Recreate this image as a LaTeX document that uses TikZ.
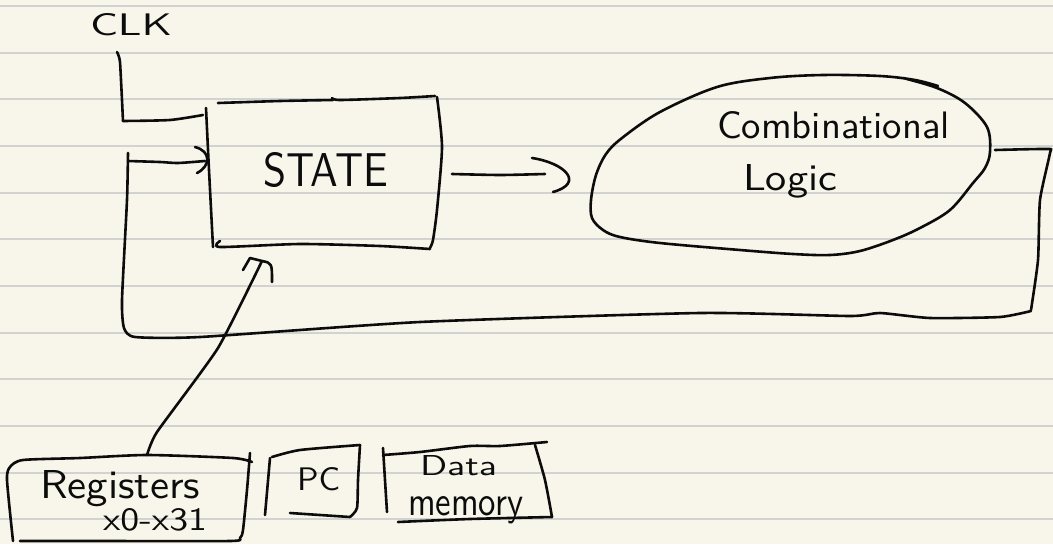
\documentclass[tikz,border=0pt]{standalone}
\usepackage{fontspec}
\usepackage{graphicx}
\definecolor{paper}{RGB}{248,246,234}
\definecolor{rule}{RGB}{210,210,208}
\definecolor{ink}{RGB}{12,12,12}
\tikzset{
  pen/.style={draw=ink, line width=2.6pt, line cap=round, line join=round},
  txt/.style={inner sep=0pt, outer sep=0pt, text=ink, font=\sffamily, anchor=base west},
}
\begin{document}
\begin{tikzpicture}[x=1pt,y=-1pt]
\fill[paper] (0,0) rectangle (1053,544);
\useasboundingbox (0,0) rectangle (1053,544);
% ruled paper
\foreach \k in {0,...,11}{
  \draw[rule, line width=2pt] (0,{6+46.67*\k}) -- (1053,{6+46.67*\k});
}
% ---------- texts ----------
\node[txt] (clk) at (90,35) {\resizebox{82pt}{22pt}{CLK}};
\node[txt] (state) at (263,186) {\resizebox{125pt}{34pt}{STATE}};
\node[txt] (comb) at (717,138) {\resizebox{233pt}{27pt}{Combinational}};
\node[txt] (logic) at (743,190) {\resizebox{94pt}{26pt}{Logic}};
\node[txt] (regs) at (40,498) {\resizebox{160pt}{28pt}{Registers}};
\node[txt] (xr) at (103,530) {\resizebox{104pt}{22pt}{x0-x31}};
\node[txt] (pc) at (297,490) {\resizebox{43pt}{23pt}{PC}};
\node[txt] (data) at (420,475) {\resizebox{77pt}{20pt}{Data}};
\node[txt] (mem) at (408,515) {\resizebox{115pt}{19pt}{memory}};
% ---------- named points ----------
\coordinate (clktop) at (117,52);
\coordinate (clkin) at (203,115);
\coordinate (fbstart) at (995,150);
\coordinate (fbtip) at (205,161);
\coordinate (outstart) at (452,174);
\coordinate (outtip) at (545,174);
\coordinate (regtop) at (147,455);
\coordinate (statebot) at (262,261);
% ---------- STATE box ----------
\draw[pen] plot[smooth,tension=0.4] coordinates {(218,103) (280,101) (333,100)};
\draw[pen] plot[smooth,tension=0.4] coordinates {(332,98) (340,100) (400,98) (435,96)};
\draw[pen] plot[smooth,tension=0.4] coordinates {(437,97) (442,147) (437,210) (433,240) (430,248)};
\draw[pen] plot[smooth,tension=0.4] coordinates {(220,241) (220,247) (300,244) (380,246) (430,249)};
\draw[pen] plot[smooth,tension=0.4] coordinates {(206,108) (209,170) (213,247)};
% ---------- CLK wire ----------
\draw[pen] plot[smooth,tension=0.3] coordinates {(clktop) (120,62) (123,121)};
\draw[pen] plot[smooth,tension=0.4] coordinates {(123,121) (170,120) (clkin)};
% ---------- feedback loop ----------
\draw[pen] plot[smooth,tension=0.35] coordinates {(fbstart) (1048,149) (1050,153) (1040,200) (1038,260) (1031,310)};
\draw[pen] plot[smooth,tension=0.35] coordinates {(1031,311) (1000,317) (930,318) (880,313) (850,316) (700,313) (420,322) (200,337) (135,337) (124,328) (122,300) (127,200) (128,153)};
\draw[pen] plot[smooth,tension=0.4] coordinates {(128,161) (160,162) (178,163) (fbtip)};
\draw[pen] (195,147) .. controls (211,151) and (211,166) .. (197,173);
% ---------- STATE -> logic ----------
\draw[pen] plot[smooth,tension=0.4] coordinates {(outstart) (500,175) (outtip)};
\draw[pen] (532,158) .. controls (565,163) and (585,183) .. (553,192);
% ---------- Combinational logic blob ----------
\draw[pen] plot[smooth,tension=0.55] coordinates {(903,78) (937,88) (965,103) (987,127) (990,152) (985,168) (973,183) (950,210) (920,228) (893,240) (860,251) (830,255) (793,254) (740,250) (660,243) (620,237) (603,230) (592,218) (591,200) (596,175) (606,154) (622,138) (660,112) (717,87) (770,78) (823,75) (880,76) (915,80) (938,86)};
% ---------- Registers -> STATE ----------
\draw[pen] plot[smooth,tension=0.3] coordinates {(regtop) (157,432) (218,348) (statebot)};
\draw[pen] (243,270) -- (250,258) -- (262,261) .. controls (272,263) .. (272,282);
% ---------- Registers box ----------
\draw[pen] plot[smooth,tension=0.4] coordinates {(13,541) (7,480) (10,467) (23,460) (80,458) (147,455) (233,458) (252,462)};
\draw[pen] plot[smooth,tension=0.4] coordinates {(250,453) (247,490) (243,530) (240,538) (230,541) (100,541) (20,541)};
% ---------- PC box ----------
\draw[pen] (270,458) -- (265,515);
\draw[pen] plot[smooth,tension=0.4] coordinates {(272,457) (300,450) (360,445)};
\draw[pen] plot[smooth,tension=0.4] coordinates {(360,445) (358,480) (357,508) (350,517)};
\draw[pen] (290,513) -- (350,517);
% ---------- Data memory box ----------
\draw[pen] (383,448) -- (387,512);
\draw[pen] plot[smooth,tension=0.4] coordinates {(383,455) (420,452) (470,446) (500,446) (547,442)};
\draw[pen] plot[smooth,tension=0.4] coordinates {(535,445) (545,480) (552,517)};
\draw[pen] plot[smooth,tension=0.4] coordinates {(398,522) (470,519) (552,517)};
\end{tikzpicture}
\end{document}
